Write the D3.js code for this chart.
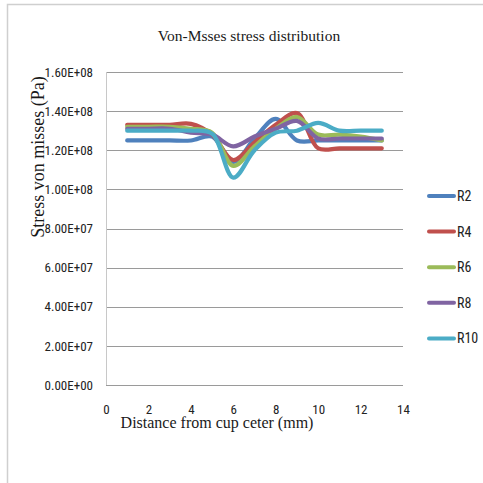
<!DOCTYPE html>
<html>
<head>
<meta charset="utf-8">
<script src="https://cdn.jsdelivr.net/npm/d3@7"></script>
<style>
  body { margin: 0; background: #fff; }
  .tick text { font-family: "Liberation Sans Narrow", "Roboto Condensed", "Liberation Sans", sans-serif; font-size: 13px; fill: #222; }
  .serif { font-family: "Liberation Serif", "DejaVu Serif", serif; fill: #1a1a1a; }
</style>
</head>
<body>
<div id="chart"></div>
<script>
// distance from cup center (mm)
var distances = [1, 2, 3, 4, 5, 6, 7, 8, 9, 10, 11, 12, 13];

// Von Mises stress (Pa)
var r2  = [1.25e8, 1.25e8, 1.25e8, 1.25e8, 1.27e8, 1.14e8, 1.26e8, 1.36e8, 1.25e8, 1.25e8, 1.25e8, 1.25e8, 1.25e8];
var r4  = [1.33e8, 1.33e8, 1.33e8, 1.335e8, 1.28e8, 1.15e8, 1.24e8, 1.33e8, 1.39e8, 1.21e8, 1.21e8, 1.21e8, 1.21e8];
var r6  = [1.32e8, 1.32e8, 1.32e8, 1.31e8, 1.29e8, 1.12e8, 1.22e8, 1.31e8, 1.37e8, 1.28e8, 1.28e8, 1.27e8, 1.25e8];
var r8  = [1.31e8, 1.31e8, 1.31e8, 1.29e8, 1.28e8, 1.22e8, 1.27e8, 1.31e8, 1.35e8, 1.26e8, 1.26e8, 1.26e8, 1.26e8];
var r10 = [1.30e8, 1.30e8, 1.30e8, 1.30e8, 1.285e8, 1.06e8, 1.20e8, 1.29e8, 1.30e8, 1.34e8, 1.30e8, 1.30e8, 1.30e8];

var seriesNames = ["R2", "R4", "R6", "R8", "R10"];
var seriesValues = [r2, r4, r6, r8, r10];
var colors = ["#4F81BD", "#C0504D", "#9BBB59", "#8064A2", "#4BACC6"];

var xTicks = [0, 2, 4, 6, 8, 10, 12, 14];
var yTicks = [0, 2e7, 4e7, 6e7, 8e7, 1e8, 1.2e8, 1.4e8, 1.6e8];

var W = 483, H = 483;
var margin = { top: 72, left: 106, right: 80, bottom: 98 };
var width = W - margin.left - margin.right,
    height = H - margin.top - margin.bottom;

var svg = d3.select("#chart")
  .append("svg")
  .attr("width", W)
  .attr("height", H);

// outer frame (only top and left show)
svg.append("path")
  .attr("d", "M7.5," + H + "V4.5H" + W)
  .attr("fill", "none")
  .attr("stroke", "#cfcfcf")
  .attr("stroke-width", 1.5);

var g = svg.append("g")
  .attr("transform", "translate(" + margin.left + "," + margin.top + ")");

var x = d3.scaleLinear().domain([0, 14]).range([0, width]);
var y = d3.scaleLinear().domain([0, 1.6e8]).range([height, 0]);

// Excel style 1.60E+08
function sci(v) {
  if (v === 0) return "0.00E+00";
  var e = Math.floor(Math.log10(v));
  var m = v / Math.pow(10, e);
  return m.toFixed(2) + "E+" + (e < 10 ? "0" : "") + e;
}

// gridlines
g.append("g")
  .selectAll("line")
  .data(yTicks)
  .enter()
  .append("line")
  .attr("x1", 0)
  .attr("x2", width)
  .attr("y1", function(d) { return Math.round(y(d)) + 0.5; })
  .attr("y2", function(d) { return Math.round(y(d)) + 0.5; })
  .attr("stroke", "#9a9a9a")
  .attr("stroke-width", 1);

g.append("line")
  .attr("x1", 0.5).attr("x2", 0.5)
  .attr("y1", 0).attr("y2", height)
  .attr("stroke", "#c8c8c8");

var yAxis = g.append("g")
  .call(d3.axisLeft(y).tickValues(yTicks).tickFormat(sci).tickSize(0).tickPadding(13));
yAxis.select(".domain").remove();

var xAxis = g.append("g")
  .attr("transform", "translate(0," + height + ")")
  .call(d3.axisBottom(x).tickValues(xTicks).tickSize(0).tickPadding(20));
xAxis.select(".domain").remove();

var line = d3.line()
  .x(function(d, i) { return x(distances[i]); })
  .y(function(d) { return y(d); })
  .curve(d3.curveCatmullRom.alpha(0.5));

g.selectAll("path.series")
  .data(seriesValues)
  .enter()
  .append("path")
  .attr("class", "series")
  .attr("d", line)
  .attr("fill", "none")
  .attr("stroke", function(d, i) { return colors[i]; })
  .attr("stroke-width", 4.2)
  .attr("stroke-linecap", "round")
  .attr("stroke-linejoin", "round");

// legend
var legend = svg.append("g")
  .selectAll("g")
  .data(seriesNames)
  .enter()
  .append("g")
  .attr("transform", function(d, i) { return "translate(429," + (196 + i * 35.6) + ")"; });

legend.append("line")
  .attr("x1", 0).attr("x2", 25)
  .attr("stroke", function(d, i) { return colors[i]; })
  .attr("stroke-width", 4)
  .attr("stroke-linecap", "round");

legend.append("text")
  .text(function(d) { return d; })
  .attr("x", 28)
  .attr("dy", "0.36em")
  .style("font-family", "'Liberation Sans Narrow', 'Roboto Condensed', 'Liberation Sans', sans-serif")
  .style("font-size", "14px")
  .attr("fill", "#222");

// titles
svg.append("text")
  .attr("class", "serif")
  .attr("x", 249)
  .attr("y", 41)
  .attr("text-anchor", "middle")
  .style("font-size", "15.5px")
  .text("Von-Msses stress distribution");

svg.append("text")
  .attr("class", "serif")
  .attr("transform", "translate(44,157) rotate(-90)")
  .attr("text-anchor", "middle")
  .style("font-size", "18px")
  .text("Stress von misses (Pa)");

svg.append("text")
  .attr("class", "serif")
  .attr("x", 217)
  .attr("y", 428)
  .attr("text-anchor", "middle")
  .style("font-size", "16px")
  .text("Distance from cup ceter (mm)");
</script>
</body>
</html>
